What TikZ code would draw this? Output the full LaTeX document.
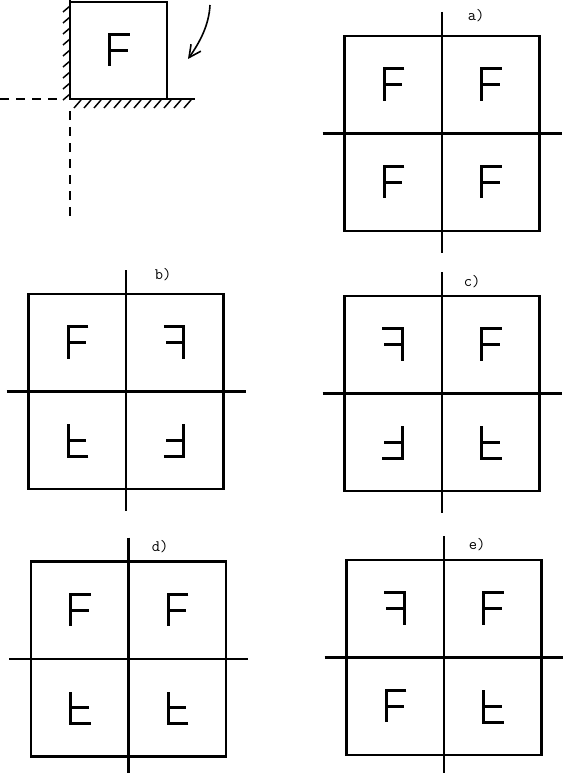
\documentclass[tikz,border=0pt]{standalone}
\usetikzlibrary{arrows.meta,calc}
\begin{document}
\begin{tikzpicture}[x=1pt,y=-1pt,
  frame/.style={draw, line width=2.2pt, minimum width=195pt, minimum height=195pt, inner sep=0pt, outer sep=0pt},
  axis/.style={line width=2.4pt},
  glyph/.style={line width=3.4pt, line join=miter},
  lbl/.style={font=\fontsize{16}{16}\selectfont\ttfamily, inner sep=0pt},
  hatch/.style={line width=1.5pt},
  dashline/.style={line width=2.6pt, dash pattern=on 9pt off 7pt},
  Fg/.pic={\draw[glyph] (11,-16) -- (-9,-16) -- (-9,16); \draw[glyph] (-9,0) -- (9,0);}
]
\useasboundingbox (0,0) rectangle (562,773);

\newcommand\mypanel[7]{%
  \node[frame] (#1) at (#2,#3) {};
  \draw[axis] ([yshift=24pt]#1.north) -- ([yshift=-22pt]#1.south);
  \draw[axis] ([xshift=-22pt]#1.west) -- ([xshift=22pt]#1.east);
  \pic[#4] (#1tl) at ($(#1.center)!0.5!(#1.north west)$) {Fg};
  \pic[#5] (#1tr) at ($(#1.center)!0.5!(#1.north east)$) {Fg};
  \pic[#6] (#1bl) at ($(#1.center)!0.5!(#1.south west)$) {Fg};
  \pic[#7] (#1br) at ($(#1.center)!0.5!(#1.south east)$) {Fg};
}

% top-left: single cell with walls
\node[frame, minimum width=97pt, minimum height=97pt] (f0) at (118.5,50.5) {};
\pic (f0g) at (f0.center) {Fg};
\coordinate (wallTop) at (70,0);
\coordinate (floorEnd) at (195,99);
\coordinate (dashL) at (0,99);
\coordinate (dashB) at (70,222);
\draw[axis] (wallTop) -- (f0.south west) -- (floorEnd);
\foreach \y in {6,17,...,96} \draw[hatch] (63,\y+6) -- (70,\y);
\foreach \x in {74,84,...,190} \draw[hatch] (\x,108) -- (\x+7,100);
\draw[dashline] (dashL) -- ([xshift=-9pt]f0.south west);
\draw[dashline] ([yshift=-12pt]f0.south west) -- (dashB);
\coordinate (arS) at (210,5);
\coordinate (arE) at (188,59);
\draw[line width=1.6pt, -{Straight Barb[length=12pt,width=12pt,line width=1.6pt]}] (arS) .. controls (209,25) and (200,42) .. (arE);

% panels
\mypanel{pa}{442}{133.5}{}{}{}{}
\mypanel{pb}{126}{391.5}{}{xscale=-1}{yscale=-1}{xscale=-1,yscale=-1}
\mypanel{pc}{442}{393.5}{xscale=-1}{}{xscale=-1,yscale=-1}{yscale=-1}
\mypanel{pd}{128.5}{659}{}{}{yscale=-1}{yscale=-1}
\mypanel{pe}{444}{657.5}{xscale=-1}{}{}{yscale=-1}

\node[lbl] (la) at (476,16) {a)};
\node[lbl] (lb) at (163,275) {b)};
\node[lbl] (lc) at (472,282) {c)};
\node[lbl] (ld) at (160,547) {d)};
\node[lbl] (le) at (477,545) {e)};
\end{tikzpicture}
\end{document}
